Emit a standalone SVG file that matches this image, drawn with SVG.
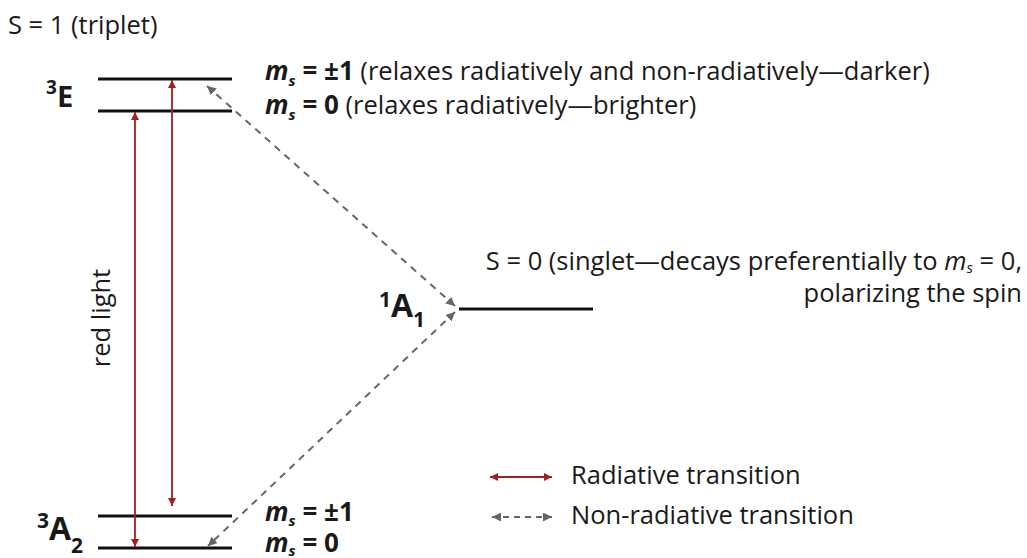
<svg xmlns="http://www.w3.org/2000/svg" width="1027" height="558" viewBox="0 0 1027 558">
<style>
text{font-family:"Open Sans","Liberation Sans",sans-serif;fill:#1a1a1a}
.t{font-size:25.5px}
.b{font-weight:bold}
.ms{font-weight:bold;font-size:26px}
.sub{font-size:15px}
.lvl{stroke:#111;stroke-width:3}
.rad{stroke:#a3201c;stroke-width:1.8;fill:none;marker-start:url(#rs);marker-end:url(#re)}
.non{stroke:#666;stroke-width:2;stroke-dasharray:7 6;fill:none;marker-start:url(#gs);marker-end:url(#ge)}
</style>
<defs>
<marker id="re" viewBox="0 0 10 10" refX="10" refY="5" markerWidth="8" markerHeight="9" markerUnits="userSpaceOnUse" orient="auto"><path d="M0,0 L10,5 L0,10 z" fill="#a3201c"/></marker>
<marker id="rs" viewBox="0 0 10 10" refX="0" refY="5" markerWidth="8" markerHeight="9" markerUnits="userSpaceOnUse" orient="auto"><path d="M10,0 L0,5 L10,10 z" fill="#a3201c"/></marker>
<marker id="ge" viewBox="0 0 10 10" refX="10" refY="5" markerWidth="9" markerHeight="9" markerUnits="userSpaceOnUse" orient="auto"><path d="M0,0 L10,5 L0,10 z" fill="#666"/></marker>
<marker id="gs" viewBox="0 0 10 10" refX="0" refY="5" markerWidth="9" markerHeight="9" markerUnits="userSpaceOnUse" orient="auto"><path d="M10,0 L0,5 L10,10 z" fill="#666"/></marker>
</defs>
<text class="t" x="8" y="34">S = 1 (triplet)</text>
<g id="E3">
<line class="lvl" x1="98" y1="79" x2="232" y2="79"/>
<line class="lvl" x1="98" y1="111" x2="232" y2="111"/>
<text class="b" x="46" y="107" font-size="29"><tspan font-size="19" dy="-13">3</tspan><tspan dy="13">E</tspan></text>
<text class="t" x="265" y="80"><tspan class="ms" font-style="italic">m</tspan><tspan class="ms sub" font-style="italic" dy="6">s</tspan><tspan class="ms" dy="-6"> = ±1</tspan> (relaxes radiatively and non-radiatively—darker)</text>
<text class="t" x="265" y="114"><tspan class="ms" font-style="italic">m</tspan><tspan class="ms sub" font-style="italic" dy="6">s</tspan><tspan class="ms" dy="-6"> = 0</tspan> (relaxes radiatively—brighter)</text>
</g>
<g id="A1">
<line class="lvl" x1="459" y1="309" x2="593" y2="309"/>
<text class="b" x="379" y="317" font-size="32"><tspan font-size="21" dy="-10">1</tspan><tspan dy="10">A</tspan><tspan font-size="21" dy="10">1</tspan></text>
<text class="t" x="1022" y="270" text-anchor="end">S = 0 (singlet—decays preferentially to <tspan font-style="italic">m</tspan><tspan class="sub" font-style="italic" dy="3">s</tspan><tspan dy="-3"> = 0,</tspan></text>
<text class="t" x="1022" y="302" text-anchor="end">polarizing the spin</text>
</g>
<g id="A2">
<line class="lvl" x1="98" y1="516" x2="232" y2="516"/>
<line class="lvl" x1="98" y1="548" x2="232" y2="548"/>
<text class="b" x="37" y="540" font-size="32"><tspan font-size="21" dy="-12">3</tspan><tspan dy="12">A</tspan><tspan font-size="21" dy="13">2</tspan></text>
<text class="t" x="265" y="521"><tspan class="ms" font-style="italic">m</tspan><tspan class="ms sub" font-style="italic" dy="5">s</tspan><tspan class="ms" dy="-5"> = ±1</tspan></text>
<text class="t" x="265" y="552"><tspan class="ms" font-style="italic">m</tspan><tspan class="ms sub" font-style="italic" dy="4">s</tspan><tspan class="ms" dy="-4"> = 0</tspan></text>
</g>
<g id="connectors">
<line class="rad" x1="135" y1="112" x2="135" y2="547"/>
<line class="rad" x1="172" y1="80" x2="172" y2="506"/>
<line class="non" x1="455" y1="306" x2="207" y2="86"/>
<line class="non" x1="455" y1="312" x2="208" y2="546"/>
<text class="t" transform="translate(110,318) rotate(-90)" text-anchor="middle">red light</text>
</g>
<g id="legend">
<line class="rad" x1="490" y1="477" x2="552" y2="477"/>
<text class="t" x="571" y="484">Radiative transition</text>
<line class="non" x1="492" y1="517" x2="552" y2="517" style="stroke-dasharray:6 5"/>
<text class="t" x="571" y="524">Non-radiative transition</text>
</g>
</svg>
